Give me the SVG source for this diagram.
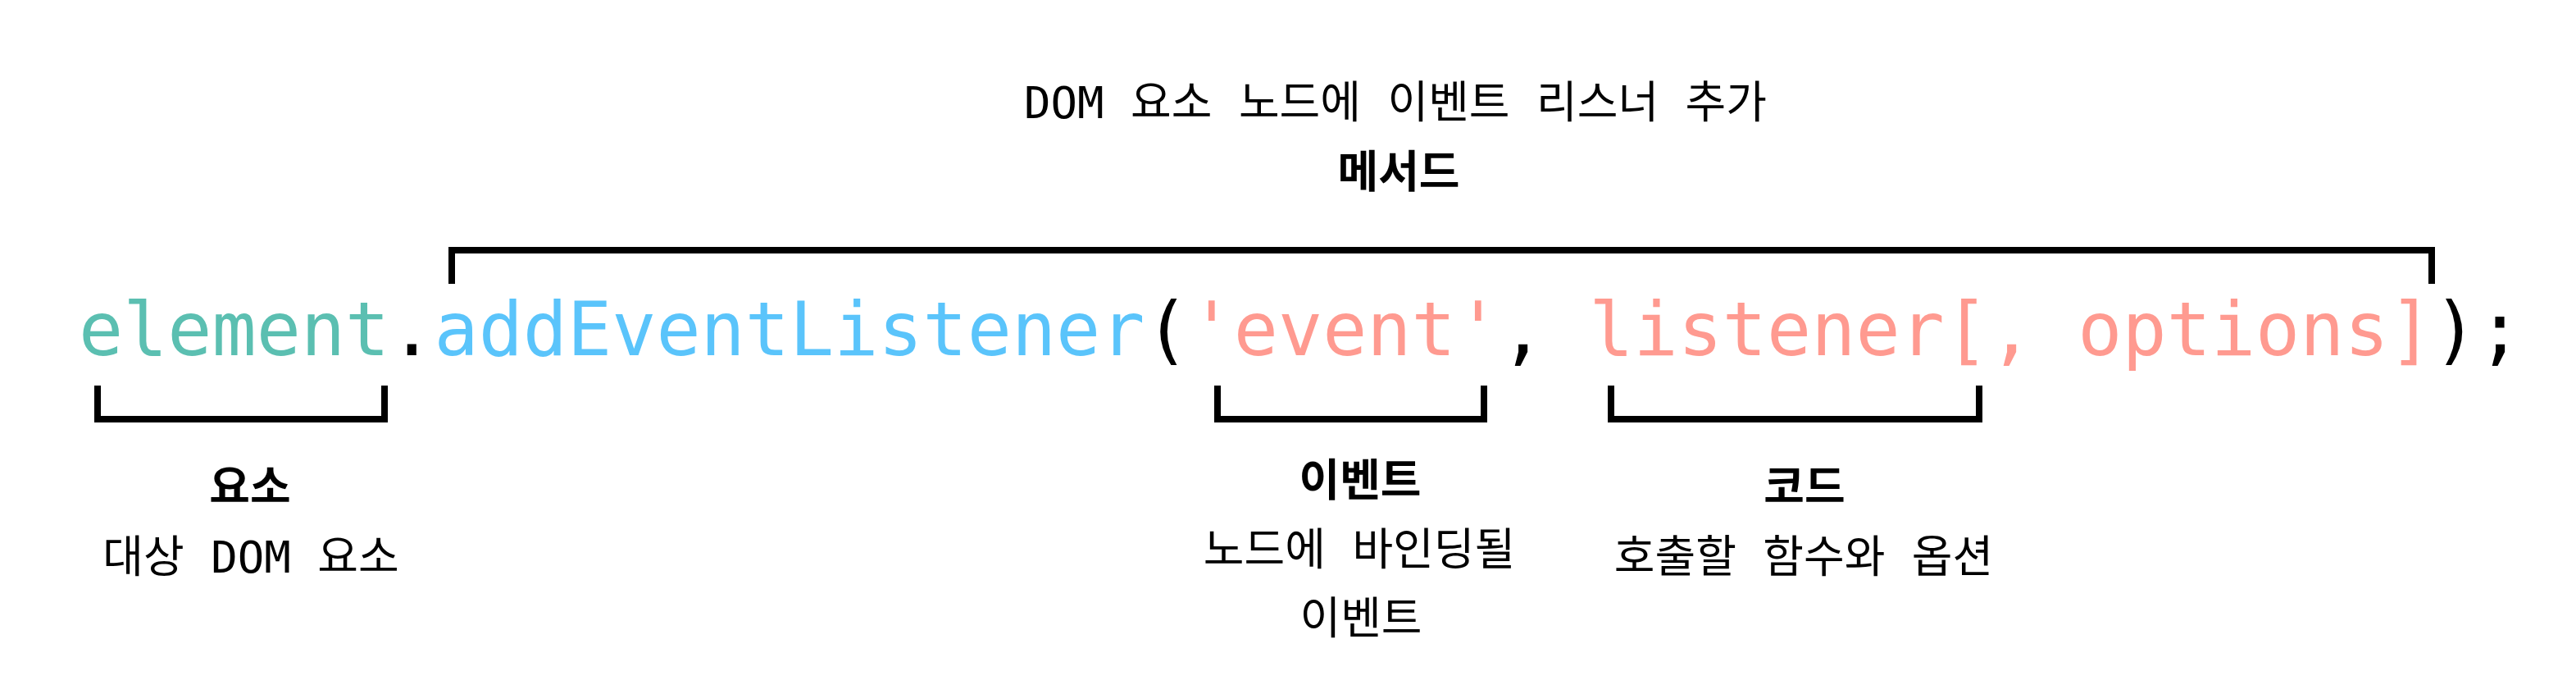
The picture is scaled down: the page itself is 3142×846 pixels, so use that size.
<svg xmlns="http://www.w3.org/2000/svg" width="3142" height="846" viewBox="0 0 3142 846">
<style>
.code{font-family:"DejaVu Sans Mono",monospace;font-size:90px;fill:#000}
.teal{fill:#5bbfb1}
.blue{fill:#5ac4fb}
.salmon{fill:#ff9a90}
.lbl{font-family:"DejaVu Sans Mono","Noto Sans CJK KR",monospace;font-size:54px;fill:#000;text-anchor:middle}
.b{font-weight:bold}
.br{fill:none;stroke:#000;stroke-width:8;stroke-linejoin:miter;stroke-linecap:butt}
</style>
<rect width="3142" height="846" fill="#fff"/>
<g id="code">
<text class="code" x="96" y="433" xml:space="preserve"><tspan class="teal">element</tspan>.<tspan class="blue">addEventListener</tspan>(<tspan class="salmon">'event'</tspan>, <tspan class="salmon">listener[, options]</tspan>);</text>
</g>
<g id="connectors">
<path class="br" d="M551,346 V305 H2966 V346"/>
<path class="br" d="M119,470 V511 H469 V470"/>
<path class="br" d="M1485,470 V511 H1810 V470"/>
<path class="br" d="M1965,470 V511 H2414 V470"/>
</g>
<g id="method">
<text class="lbl" x="1702" y="144">DOM 요소 노드에 이벤트 리스너 추가</text>
<text class="lbl b" x="1706" y="229">메서드</text>
</g>
<g id="element">
<text class="lbl b" x="305" y="613">요소</text>
<text class="lbl" x="306" y="698">대상 DOM 요소</text>
</g>
<g id="event">
<text class="lbl b" x="1659" y="605">이벤트</text>
<text class="lbl" x="1658" y="689">노드에 바인딩될</text>
<text class="lbl" x="1660" y="773">이벤트</text>
</g>
<g id="listener">
<text class="lbl b" x="2201" y="613">코드</text>
<text class="lbl" x="2200" y="698">호출할 함수와 옵션</text>
</g>
</svg>
